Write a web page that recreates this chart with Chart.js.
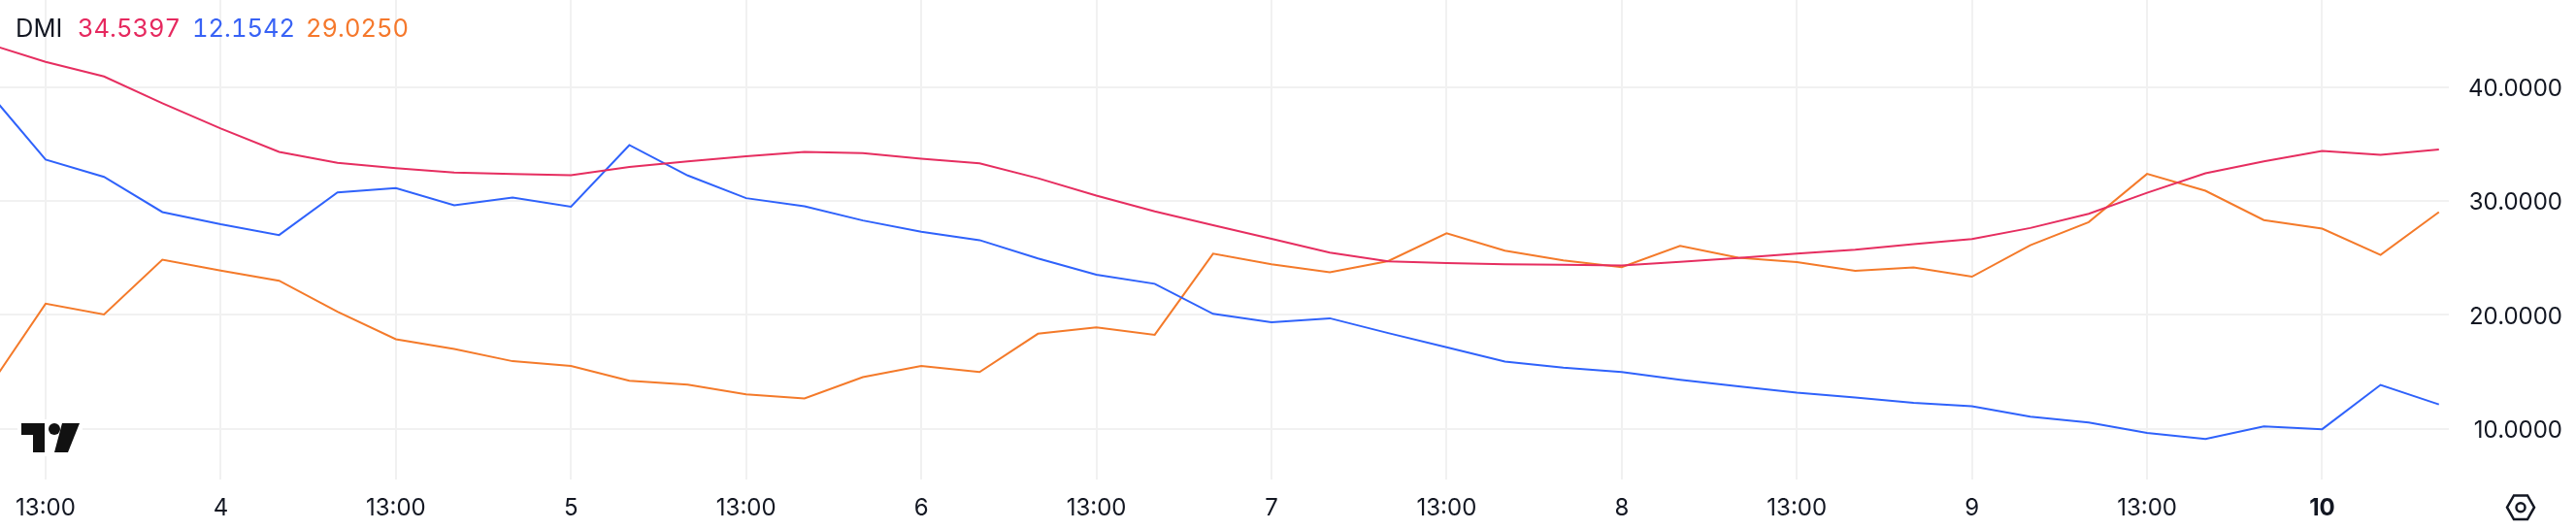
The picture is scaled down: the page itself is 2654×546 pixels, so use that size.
<!DOCTYPE html>
<html lang="en">
<head>
    <meta charset="UTF-8">
    <title>DMI</title>
    <script src="https://cdn.jsdelivr.net/npm/chart.js"></script>
    <style>
        body { margin: 0; background: #ffffff; }
        #wrap { position: relative; width: 2654px; height: 546px; overflow: hidden; }
        canvas { position: absolute; left: 0; top: 0; }
        .legend { position: absolute; top: 14px; font: 25.5px/30px Inter, sans-serif; font-variant-numeric: tabular-nums; white-space: nowrap; }
        svg { position: absolute; left: 0; top: 0; }
    </style>
</head>
<body>
    <div id="wrap">
        <canvas id="chartDmi" width="2654" height="546"></canvas>
        <span class="legend" style="left:16px;color:#131722">DMI</span>
        <span class="legend" style="left:80px;color:#e6295f">34.5397</span>
        <span class="legend" style="left:198px;color:#3862f5">12.1542</span>
        <span class="legend" style="left:315px;color:#f5782c">29.0250</span>
        <svg width="2654" height="546">
            <rect x="18" y="432" width="67" height="38" fill="#ffffff"/>
            <path d="M22 436H46V466H34V448H22Z" fill="#111111"/>
            <circle cx="56" cy="442" r="6" fill="#111111"/>
            <path d="M64 436H82L70 466H56Z" fill="#111111"/>
            <path d="M2583 522.7L2590 510.5H2604L2611 522.7L2604 535H2590Z" fill="none" stroke="#131722" stroke-width="2.5"/>
            <circle cx="2597" cy="522.7" r="4.5" fill="none" stroke="#131722" stroke-width="2.5"/>
        </svg>
    </div>

    <script>
        // one bar every 4 hours, bar 0 is the first 13:00
        const barIndex = [-1,0,1,2,3,4,5,6,7,8,9,10,11,12,13,14,15,16,17,18,19,20,21,22,23,24,25,26,27,28,29,30,31,32,33,34,35,36,37,38,39,40,41];

        const redLine = [43.83,42.22,40.95,38.6,36.37,34.32,33.37,32.9,32.51,32.39,32.27,32.99,33.49,33.94,34.32,34.21,33.73,33.31,32.01,30.49,29.1,27.88,26.69,25.47,24.7,24.55,24.46,24.4,24.35,24.67,25.0,25.38,25.74,26.22,26.66,27.64,28.89,30.73,32.45,33.49,34.41,34.06,34.54];
        const blueLine = [39.7,33.64,32.13,29.04,27.97,27.02,30.76,31.15,29.63,30.31,29.51,34.92,32.25,30.26,29.54,28.3,27.31,26.57,24.97,23.54,22.74,20.1,19.36,19.71,18.41,17.16,15.91,15.38,14.99,14.31,13.74,13.18,12.76,12.29,11.99,11.07,10.56,9.64,9.11,10.21,9.97,13.86,12.15];
        const orangeLine = [13.42,20.99,20.04,24.85,23.9,23.01,20.28,17.87,17.01,15.94,15.52,14.22,13.89,13.03,12.67,14.54,15.52,14.99,18.35,18.91,18.26,25.38,24.46,23.75,24.73,27.17,25.65,24.79,24.2,26.07,25.03,24.64,23.87,24.17,23.36,26.13,28.15,32.39,30.91,28.33,27.58,25.27,29.03];

        const xTickBars = [0,3,6,9,12,15,18,21,24,27,30,33,36,39];
        const xTickLabels = ['13:00','4','13:00','5','13:00','6','13:00','7','13:00','8','13:00','9','13:00','10'];
        const yTicks = [10,20,30,40];

        function line(values, color) {
            return {
                data: values.map((v, i) => ({x: barIndex[i], y: v})),
                borderColor: color,
                borderWidth: 2,
                pointRadius: 0,
                tension: 0,
                fill: false
            };
        }

        // chart.js reserves room for half a tick label at the ends, the plot here runs edge to edge
        function noEdgePadding(s) {
            s.paddingTop = 0;
            s.paddingBottom = 0;
            s.paddingLeft = 0;
            s.paddingRight = 0;
        }

        Chart.defaults.font.family = 'Inter, sans-serif';
        Chart.defaults.font.size = 24;
        Chart.defaults.color = '#131722';

        new Chart(document.getElementById('chartDmi'), {
            type: 'line',
            data: {
                datasets: [
                    line(redLine, '#e62e60'),
                    line(blueLine, '#2f62fb'),
                    line(orangeLine, '#f47a2a')
                ]
            },
            options: {
                responsive: false,
                animation: false,
                layout: {padding: {right: 14}},
                plugins: {legend: {display: false}, tooltip: {enabled: false}},
                scales: {
                    x: {
                        type: 'linear',
                        min: -0.7815,
                        max: 41.17,
                        afterBuildTicks: s => { s.ticks = xTickBars.map(v => ({value: v})); },
                        afterFit: s => { s.height = 52; noEdgePadding(s); },
                        grid: {color: '#f1f1f1', lineWidth: 2, drawTicks: false},
                        border: {display: false},
                        ticks: {
                            padding: 15,
                            maxRotation: 0,
                            autoSkip: false,
                            callback: v => xTickLabels[xTickBars.indexOf(v)],
                            font: ctx => ({size: 24, weight: ctx.index === xTickLabels.length - 1 ? 'bold' : 'normal'})
                        }
                    },
                    y: {
                        position: 'right',
                        min: 5.55,
                        max: 47.66,
                        afterBuildTicks: s => { s.ticks = yTicks.map(v => ({value: v})); },
                        afterFit: s => { s.width = 117; noEdgePadding(s); },
                        grid: {color: '#f1f1f1', lineWidth: 2, drawTicks: false},
                        border: {display: false},
                        ticks: {
                            padding: 10,
                            crossAlign: 'far',
                            labelOffset: 2,
                            font: {size: 24},
                            callback: v => v.toFixed(4)
                        }
                    }
                }
            }
        });
    </script>
</body>
</html>
